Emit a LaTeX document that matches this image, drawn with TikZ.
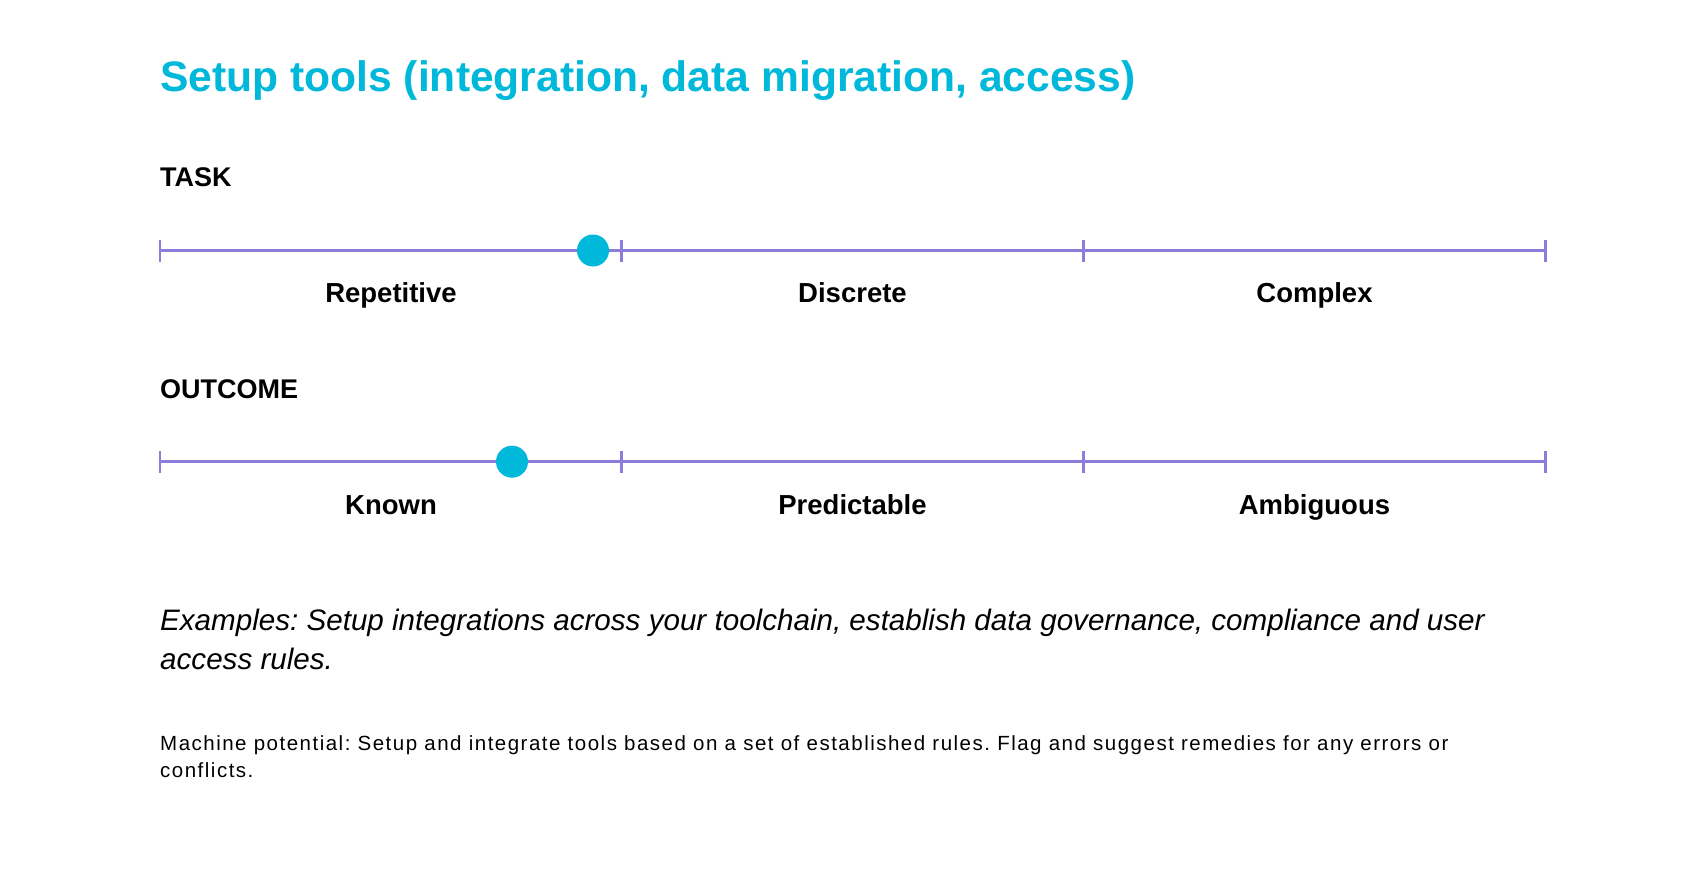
\documentclass[tikz,border=0pt]{standalone}
\usepackage{fontspec}
\setmainfont{Liberation Sans}
\usepackage{xcolor}
\usetikzlibrary{positioning}
\definecolor{TitleCyan}{HTML}{00B8DA}
\definecolor{ScaleLine}{HTML}{8A7DDC}
\frenchspacing
\tikzset{
  Ttl/.style={anchor=base west, inner sep=0pt, text=TitleCyan,
              font=\fontsize{42.6}{50}\selectfont\bfseries},
  Head/.style={anchor=base west, inner sep=0pt,
               font=\fontsize{27}{32}\selectfont\bfseries},
  Lbl/.style={anchor=base, inner sep=0pt,
              font=\fontsize{27.5}{32}\selectfont\bfseries},
  Expl/.style={anchor=base west, inner sep=0pt,
               font=\fontsize{29.6}{36}\selectfont\itshape},
  Note/.style={anchor=base west, inner sep=0pt,
               font=\fontsize{20.5}{26}\selectfont\addfontfeature{LetterSpace=7.3}},
  Scl/.style={draw=ScaleLine, line width=3pt},
  Tck/.style={draw=ScaleLine, line width=2.6pt},
  Knob/.style={circle, fill=TitleCyan, inner sep=0pt, minimum size=32pt}
}

\begin{document}
\begin{tikzpicture}[x=1pt, y=-1pt]
  \useasboundingbox[fill=white] (0,0) rectangle (1706,872);

  \node[Ttl] (title) at (160,92) {Setup tools (integration, data migration, access)};

  % task scale
  \node[Head] (task) at (160,186) {TASK};
  \coordinate (ta) at (160,250.5);
  \coordinate (tb) at (621.5,250.5);
  \coordinate (tc) at (1083.5,250.5);
  \coordinate (td) at (1545.5,250.5);
  \draw[Scl] (ta) -- (td);
  \draw[Tck] ([yshift=-11pt]ta) -- ([yshift=11pt]ta);
  \draw[Tck] ([yshift=-11pt]tb) -- ([yshift=11pt]tb);
  \draw[Tck] ([yshift=-11pt]tc) -- ([yshift=11pt]tc);
  \draw[Tck] ([yshift=-11pt]td) -- ([yshift=11pt]td);
  \node[Knob] (tdot) at (593,250.5) {};
  \node[Lbl] (rep) at (391,302) {Repetitive};
  \node[Lbl] (disc) at (852.5,302) {Discrete};
  \node[Lbl] (cplx) at (1314.5,302) {Complex};

  % outcome scale
  \node[Head] (outc) at (160,398) {OUTCOME};
  \coordinate (oa) at (160,461.7);
  \coordinate (ob) at (621.5,461.7);
  \coordinate (oc) at (1083.5,461.7);
  \coordinate (od) at (1545.5,461.7);
  \draw[Scl] (oa) -- (od);
  \draw[Tck] ([yshift=-11pt]oa) -- ([yshift=11pt]oa);
  \draw[Tck] ([yshift=-11pt]ob) -- ([yshift=11pt]ob);
  \draw[Tck] ([yshift=-11pt]oc) -- ([yshift=11pt]oc);
  \draw[Tck] ([yshift=-11pt]od) -- ([yshift=11pt]od);
  \node[Knob] (odot) at (512,461.7) {};
  \node[Lbl] (known) at (391,514) {Known};
  \node[Lbl] (pred) at (852.5,514) {Predictable};
  \node[Lbl] (ambig) at (1314.5,514) {Ambiguous};

  % examples and note
  \node[Expl] (ex1) at (160,630) {Examples: Setup integrations across your toolchain, establish data governance, compliance and user};
  \node[Expl] (ex2) at (160,669.3) {access rules.};
  \node[Note] (mp1) at (160,750.7) {Machine potential: Setup and integrate tools based on a set of established rules. Flag and suggest remedies for any errors or};
  \node[Note] (mp2) at (160,777) {conflicts.};
\end{tikzpicture}
\end{document}
